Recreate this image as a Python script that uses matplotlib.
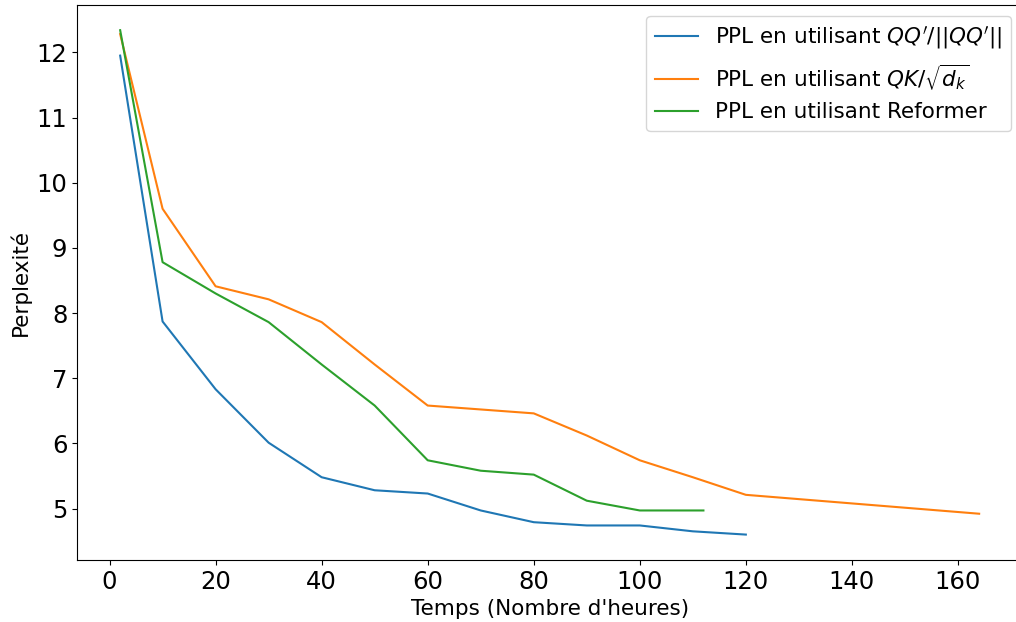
import matplotlib
matplotlib.use('Agg')
import matplotlib.pyplot as plt

temps_qq = [2, 10, 20, 30, 40, 50, 60, 70, 80, 90, 100, 110, 120]
ppl_qq = [11.95, 7.87, 6.83, 6.01, 5.48, 5.28, 5.23, 4.97, 4.79, 4.74, 4.74, 4.65, 4.60]

temps_qk = [2, 10, 20, 30, 40, 50, 60, 70, 80, 90, 100, 110, 120, 164]
ppl_qk = [12.28, 9.6, 8.41, 8.21, 7.86, 7.21, 6.58, 6.52, 6.46, 6.12, 5.74, 5.48, 5.21, 4.92]

temps_ref = [2, 10, 20, 30, 40, 50, 60, 70, 80, 90, 100, 112]
ppl_ref = [12.34, 8.78, 8.3, 7.86, 7.21, 6.58, 5.74, 5.58, 5.52, 5.12, 4.97, 4.97]

fig, ax = plt.subplots(figsize=(10.16, 6.22), dpi=100)
ax.plot(temps_qq, ppl_qq, label=r"PPL en utilisant $QQ'/||QQ'||$")
ax.plot(temps_qk, ppl_qk, label=r"PPL en utilisant $QK/\sqrt{d_k}$")
ax.plot(temps_ref, ppl_ref, label="PPL en utilisant Reformer")

ax.set_xlabel("Temps (Nombre d'heures)", fontsize=15.5)
ax.set_ylabel("Perplexité", fontsize=15.5)
ax.tick_params(labelsize=17.5)
ax.legend(fontsize=15.5)

# the reference is cropped a bit on the right, the right spine falls outside
plt.subplots_adjust(left=0.076, right=1.006, top=0.992, bottom=0.1)
plt.savefig('out.png')
